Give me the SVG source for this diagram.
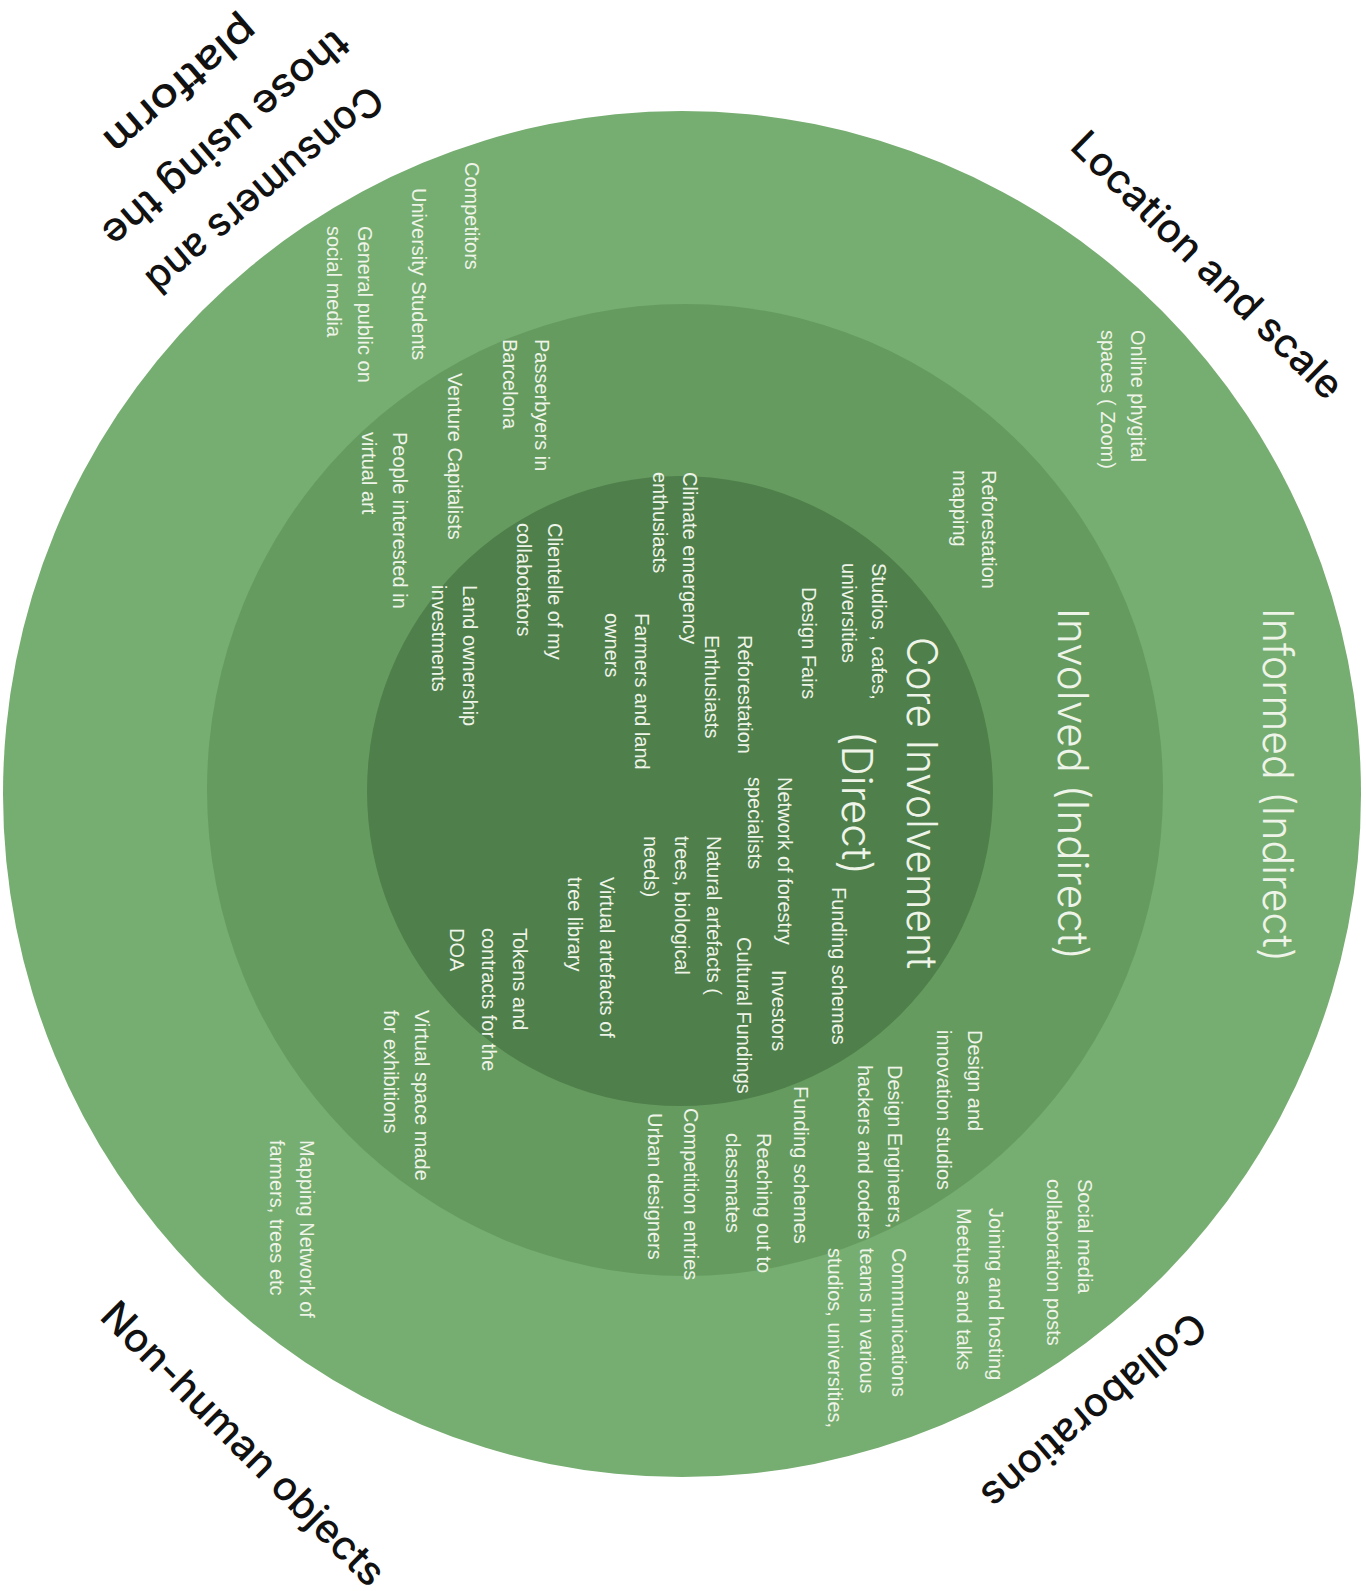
<svg xmlns="http://www.w3.org/2000/svg" width="1366" height="1591" viewBox="0 0 1366 1591">
<style>
.t{font-family:"Liberation Sans",Arial,sans-serif;font-size:20px;fill:#eef4e8}
.big{font-family:Inter,"Noto Sans",sans-serif;font-weight:300;font-size:42px;fill:#eef4e8}
.corner{font-family:Inter,"Noto Sans",sans-serif;font-weight:500;font-size:40px;fill:#111}
</style>
<rect width="1366" height="1591" fill="#ffffff"/>
<g id="rings">
<ellipse id="ring-informed" cx="682" cy="794" rx="679" ry="683" fill="#76ad70"/>
<ellipse id="ring-involved" cx="685" cy="790" rx="478" ry="486" fill="#659b5f"/>
<ellipse id="ring-core" cx="680" cy="791" rx="313" ry="315" fill="#4f7f4b"/>
</g>
<g id="corner-labels">
<text class="corner" transform="translate(1207.5,265) rotate(44.5)" text-anchor="middle" dy="0.35em" textLength="362" lengthAdjust="spacingAndGlyphs">Location and scale</text>
<text class="corner" transform="translate(1094,1411) rotate(139.7)" text-anchor="middle" dy="0.35em" textLength="280" lengthAdjust="spacingAndGlyphs">Collaborations</text>
<text class="corner" transform="translate(243.5,1443.5) rotate(45)" text-anchor="middle" dy="0.35em" textLength="383" lengthAdjust="spacingAndGlyphs">Non-human objects</text>
<text class="corner" transform="translate(265,190) rotate(139.5)" text-anchor="middle" dy="0.35em" textLength="297" lengthAdjust="spacingAndGlyphs">Consumers and</text>
<text class="corner" transform="translate(226,139) rotate(139.5)" text-anchor="middle" dy="0.35em" textLength="310" lengthAdjust="spacingAndGlyphs">those using the</text>
<text class="corner" transform="translate(181,86) rotate(139.5)" text-anchor="middle" dy="0.35em" textLength="188" lengthAdjust="spacingAndGlyphs">platform</text>
</g>
<g id="ring-titles">
<text class="big" transform="translate(1263,608) rotate(90)" textLength="354" lengthAdjust="spacingAndGlyphs">Informed (Indirect)</text>
<text class="big" transform="translate(1058,608) rotate(90)" textLength="352" lengthAdjust="spacingAndGlyphs">Involved (Indirect)</text>
<text class="big" transform="translate(907,637) rotate(90)" textLength="332" lengthAdjust="spacingAndGlyphs">Core Involvement</text>
<text class="big" transform="translate(842,731) rotate(90)" textLength="144" lengthAdjust="spacingAndGlyphs">(Direct)</text>
</g>
<g id="informed-items">
<text class="t" transform="translate(465,162) rotate(90)">Competitors</text>
<text class="t" transform="translate(412,188) rotate(90)">University Students</text>
<text class="t" transform="translate(358,226) rotate(90)"><tspan x="0" y="0">General public on</tspan><tspan x="0" y="31">social media</tspan></text>
<text class="t" transform="translate(1131,330) rotate(90)"><tspan x="0" y="0">Online phygital</tspan><tspan x="0" y="30">spaces ( Zoom)</tspan></text>
<text class="t" transform="translate(1078,1179) rotate(90)"><tspan x="0" y="0">Social media</tspan><tspan x="0" y="31">collaboration posts</tspan></text>
<text class="t" transform="translate(989,1208) rotate(90)"><tspan x="0" y="0">Joining and hosting</tspan><tspan x="0" y="32">Meetups and talks</tspan></text>
<text class="t" transform="translate(300,1140) rotate(90)"><tspan x="0" y="0">Mapping Network of</tspan><tspan x="0" y="30">farmers, trees etc</tspan></text>
</g>
<g id="involved-items">
<text class="t" transform="translate(982,470) rotate(90)"><tspan x="0" y="0">Reforestation</tspan><tspan x="0" y="29">mapping</tspan></text>
<text class="t" transform="translate(535,339) rotate(90)"><tspan x="0" y="0">Passerbyers in</tspan><tspan x="0" y="32">Barcelona</tspan></text>
<text class="t" transform="translate(448,373) rotate(90)">Venture Capitalists</text>
<text class="t" transform="translate(393,432) rotate(90)"><tspan x="0" y="0">People interested in</tspan><tspan x="0" y="31">virtual art</tspan></text>
<text class="t" transform="translate(968,1030) rotate(90)"><tspan x="0" y="0">Design and</tspan><tspan x="0" y="31">innovation studios</tspan></text>
<text class="t" transform="translate(888,1065) rotate(90)"><tspan x="0" y="0">Design Engineers,</tspan><tspan x="0" y="30">hackers and coders</tspan></text>
<text class="t" transform="translate(892,1248) rotate(90)"><tspan x="0" y="0">Communications</tspan><tspan x="0" y="32">teams in various</tspan><tspan x="0" y="64">studios, universities,</tspan></text>
<text class="t" transform="translate(794,1086) rotate(90)">Funding schemes</text>
<text class="t" transform="translate(757,1133) rotate(90)"><tspan x="0" y="0">Reaching out to</tspan><tspan x="0" y="31">classmates</tspan></text>
<text class="t" transform="translate(684,1108) rotate(90)">Competition entries</text>
<text class="t" transform="translate(648,1113) rotate(90)">Urban designers</text>
<text class="t" transform="translate(415,1010) rotate(90)"><tspan x="0" y="0">Virtual space made</tspan><tspan x="0" y="31">for exhibitions</tspan></text>
</g>
<g id="core-items">
<text class="t" transform="translate(872,563) rotate(90)"><tspan x="0" y="0">Studios , cafes,</tspan><tspan x="0" y="30">universities</tspan></text>
<text class="t" transform="translate(802,587) rotate(90)">Design Fairs</text>
<text class="t" transform="translate(738,635) rotate(90)"><tspan x="0" y="0">Reforestation</tspan><tspan x="0" y="33">Enthusiasts</tspan></text>
<text class="t" transform="translate(683,472) rotate(90)"><tspan x="0" y="0">Climate emergency</tspan><tspan x="0" y="30">enthusiasts</tspan></text>
<text class="t" transform="translate(635,613) rotate(90)"><tspan x="0" y="0">Farmers and land</tspan><tspan x="0" y="30">owners</tspan></text>
<text class="t" transform="translate(548,523) rotate(90)"><tspan x="0" y="0">Clientelle of my</tspan><tspan x="0" y="31">collabotators</tspan></text>
<text class="t" transform="translate(463,585) rotate(90)"><tspan x="0" y="0">Land ownership</tspan><tspan x="0" y="31">investments</tspan></text>
<text class="t" transform="translate(778,777) rotate(90)"><tspan x="0" y="0">Network of forestry</tspan><tspan x="0" y="30">specialists</tspan></text>
<text class="t" transform="translate(832,887) rotate(90)">Funding schemes</text>
<text class="t" transform="translate(772,970) rotate(90)">Investors</text>
<text class="t" transform="translate(737,937) rotate(90)">Cultural Fundings</text>
<text class="t" transform="translate(707,836) rotate(90)"><tspan x="0" y="0">Natural artefacts (</tspan><tspan x="0" y="32">trees, biological</tspan><tspan x="0" y="63">needs)</tspan></text>
<text class="t" transform="translate(600,877) rotate(90)"><tspan x="0" y="0">Virtual artefacts of</tspan><tspan x="0" y="32">tree library</tspan></text>
<text class="t" transform="translate(513,928) rotate(90)"><tspan x="0" y="0">Tokens and</tspan><tspan x="0" y="31">contracts for the</tspan><tspan x="0" y="63">DOA</tspan></text>
</g>
</svg>
